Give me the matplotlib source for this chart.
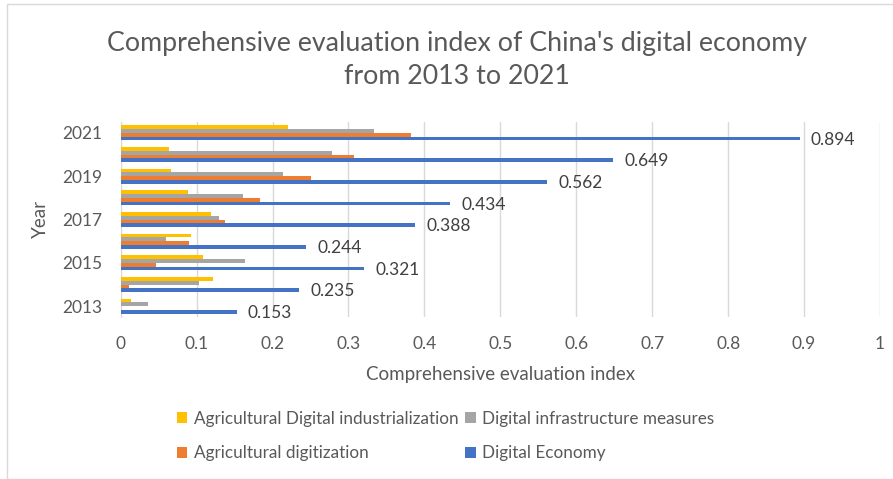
import matplotlib
matplotlib.use("Agg")
import matplotlib.pyplot as plt
import numpy as np
from matplotlib.patches import Rectangle, Patch

plt.rcParams['font.family'] = ['Lato', 'DejaVu Sans']

years = [2013, 2014, 2015, 2016, 2017, 2018, 2019, 2020, 2021]
digital_economy = [0.153, 0.235, 0.321, 0.244, 0.388, 0.434, 0.562, 0.649, 0.894]
agri_digitization = [0.000, 0.011, 0.046, 0.090, 0.137, 0.183, 0.251, 0.307, 0.382]
infra_measures = [0.036, 0.103, 0.164, 0.060, 0.130, 0.161, 0.214, 0.278, 0.334]
agri_industrialization = [0.014, 0.121, 0.109, 0.092, 0.119, 0.089, 0.066, 0.063, 0.220]
ytick_years = [2013, 2015, 2017, 2019, 2021]
xticks = [0, 0.1, 0.2, 0.3, 0.4, 0.5, 0.6, 0.7, 0.8, 0.9, 1]

TEXT = '#595959'
W, H = 893, 479
fig = plt.figure(figsize=(W / 100, H / 100), dpi=100)

# outer chart frame
fig.patches.append(Rectangle((7 / W, 0.5 / H), 1.2, (H - 4.5) / H, transform=fig.transFigure,
                             fill=False, edgecolor='#d9d9d9', linewidth=1))

ax = fig.add_axes([120.7 / W, (H - 317) / H, (880 - 120.7) / W, (317 - 122) / H])

y = np.arange(len(years))
h = 0.17
series = [
    (digital_economy, '#4472C4', 'Digital Economy', -1.5),
    (agri_digitization, '#ED7D31', 'Agricultural digitization', -0.5),
    (infra_measures, '#A5A5A5', 'Digital infrastructure measures', 0.5),
    (agri_industrialization, '#FFC000', 'Agricultural Digital industrialization', 1.5),
]
bars = {}
for vals, col, name, k in series:
    bars[name] = ax.barh(y + k * h, vals, height=h, color=col, zorder=3)

for rect, v in zip(bars['Digital Economy'], digital_economy):
    ax.annotate(f'{v:.3f}', (rect.get_width(), rect.get_y() + rect.get_height() / 2),
                xytext=(8, -1), textcoords='offset points', ha='left', va='center',
                fontsize=12.5, color='#404040')

ax.set_xlim(0, 1)
ax.set_ylim(-0.5, len(years) - 0.5)
ax.set_xticks(xticks)
ax.set_xticklabels([f'{t:g}' for t in xticks])
ax.set_yticks([years.index(yr) for yr in ytick_years])
ax.set_yticklabels([str(yr) for yr in ytick_years])
ax.tick_params(axis='both', length=0, labelsize=12.5, labelcolor=TEXT)
ax.tick_params(axis='x', pad=14)
ax.tick_params(axis='y', pad=13)
ax.grid(axis='x', color='#d9d9d9', linewidth=1, zorder=0)
for s in ['top', 'right', 'bottom']:
    ax.spines[s].set_visible(False)
ax.spines['left'].set_color('#d9d9d9')
ax.spines['left'].set_zorder(1)

ax.set_xlabel('Comprehensive evaluation index', fontsize=13.5, color=TEXT, labelpad=10)
ax.set_ylabel('Year', fontsize=13.5, color=TEXT, labelpad=10)

fig.text(457 / W, 1 - 60 / H, "Comprehensive evaluation index of China's digital economy\nfrom 2013 to 2021",
         ha='center', va='center', fontsize=19.3, color=TEXT, linespacing=1.38)

order = ['Agricultural Digital industrialization', 'Agricultural digitization',
         'Digital infrastructure measures', 'Digital Economy']
colors = {name: col for _, col, name, _ in series}
handles = [Patch(facecolor=colors[n], label=n) for n in order]
leg = fig.legend(handles=handles, ncol=2, loc='center left', bbox_to_anchor=(170 / W, 1 - 436 / H),
                 frameon=False, fontsize=12.3, handlelength=0.6, handleheight=0.6,
                 handletextpad=0.4, columnspacing=0.4, labelspacing=1.1, borderaxespad=0)
for t in leg.get_texts():
    t.set_color(TEXT)

fig.savefig('out.png', dpi=100)
